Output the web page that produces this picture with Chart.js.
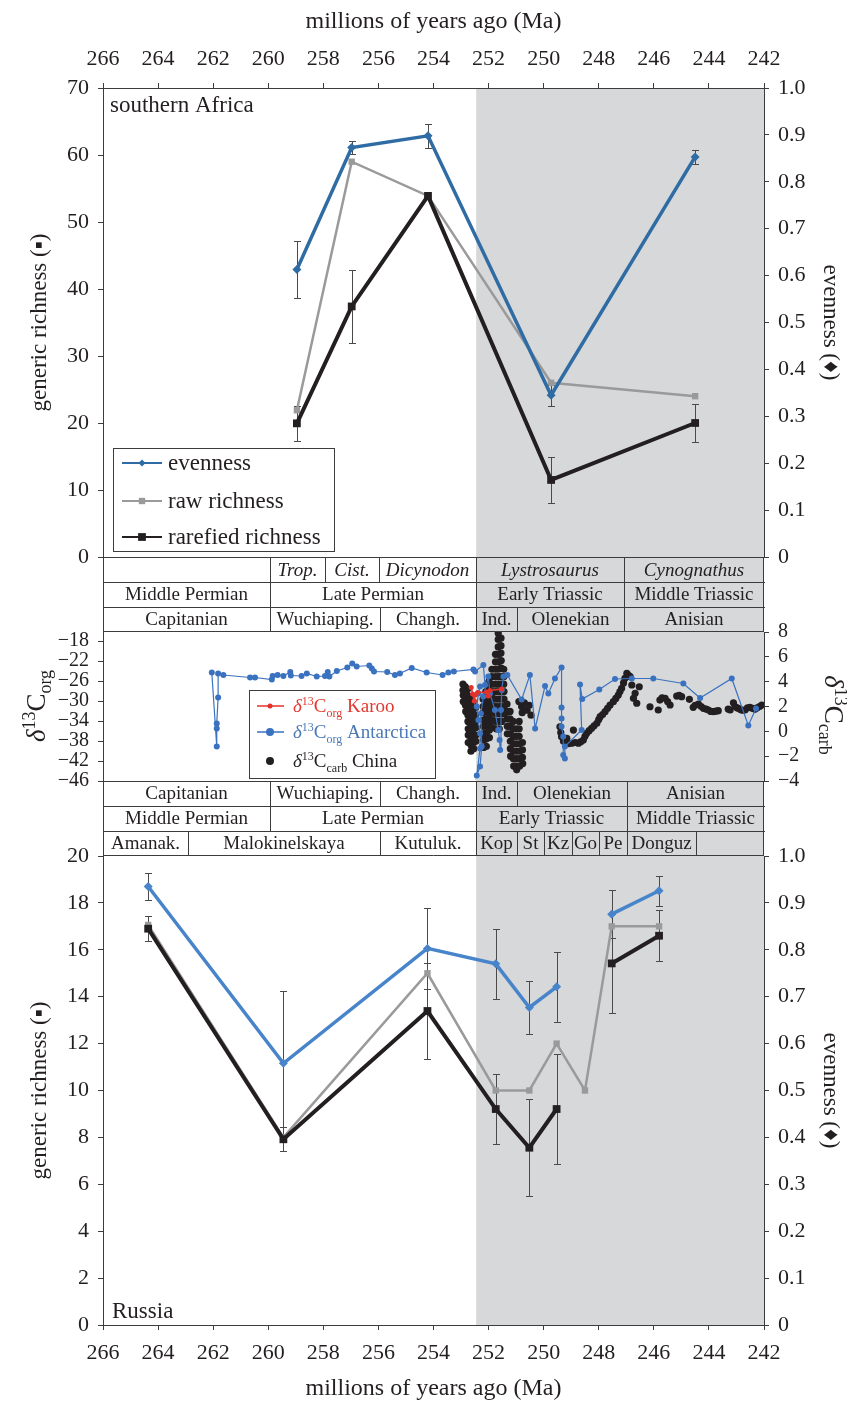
<!DOCTYPE html>
<html>
<head>
<meta charset="utf-8">
<title>Evenness and richness across the Permian-Triassic</title>
<script src="https://cdn.jsdelivr.net/npm/chart.js"></script>
<style>
  body { margin: 0; background: #fff; }
  #wrap { position: relative; width: 847px; height: 1403px; }
  canvas { position: absolute; left: 0; }
</style>
</head>
<body>
<div id="wrap">
  <canvas id="africaChart" width="847" height="632" style="top:0"></canvas>
  <canvas id="isotopeChart" width="847" height="249" style="top:607px"></canvas>
  <canvas id="russiaChart" width="847" height="572" style="top:831px"></canvas>
</div>
<script>
// ---- axes ----
const maTicks = [266, 264, 262, 260, 258, 256, 254, 252, 250, 248, 246, 244, 242];
const evenTicks = [0, 0.1, 0.2, 0.3, 0.4, 0.5, 0.6, 0.7, 0.8, 0.9, 1.0];
const africaRichTicks = [0, 10, 20, 30, 40, 50, 60, 70];
const russiaRichTicks = [0, 2, 4, 6, 8, 10, 12, 14, 16, 18, 20];
const orgTicks = [-46, -42, -38, -34, -30, -26, -22, -18];
const carbTicks = [-4, -2, 0, 2, 4, 6, 8];
const triassicFrom = 252.45;

// ---- southern Africa ----
const africaMa = [258.96, 256.97, 254.2, 249.73, 244.5];
const africaEvenness = [0.613, 0.873, 0.898, 0.345, 0.853];
const africaEvennessErr = [0.06, 0.013, 0.026, 0.022, 0.015];
const africaRaw = [21.9, 59.0, 53.9, 26.0, 24.0];
const africaRarefied = [19.95, 37.4, 53.9, 11.5, 20.0];
const africaRarefiedErr = [2.6, 5.5, 0, 3.5, 2.9];

// ---- Russia ----
const russiaMa = [264.36, 259.45, 254.22, 251.74, 250.52, 249.53, 248.5, 247.53, 245.81];
const russiaEvenness = [0.935, 0.558, 0.803, 0.770, 0.677, 0.721, null, 0.876, 0.926];
const russiaEvennessErr = [0.028, 0.155, 0.087, 0.074, 0.056, 0.074, 0, 0.051, 0.032];
const russiaRaw = [17.06, 8.0, 15.0, 10.0, 10.0, 12.0, 10.0, 17.0, 17.0];
const russiaRarefied = [16.9, 7.92, 13.39, 9.21, 7.56, 9.21, null, 15.42, 16.6];
const russiaRarefiedErr = [0.54, 0.52, 2.03, 1.5, 2.06, 2.33, 0, 2.1, 1.08];

// ---- carbon isotopes, [Ma, permil] ----
const karooOrg = [[252.63, -27.3], [252.58, -28.6], [252.52, -30.0], [252.49, -28.8], [252.4, -28.3],
  [252.07, -28.2], [252.01, -29.0], [251.95, -27.9], [251.52, -27.6]];

const antarcticaOrg = [[262.05, -24.3], [261.87, -39.1], [261.87, -35.5], [261.87, -34.5], [261.82, -29.3],
  [261.82, -24.5], [261.63, -24.8], [260.66, -25.3], [260.48, -25.3], [259.87, -25.7], [259.84, -25.0],
  [259.66, -24.8], [259.45, -25.0], [259.2, -24.2], [259.18, -24.9], [258.79, -25.0], [258.6, -24.5],
  [258.24, -25.1], [257.94, -25.0], [257.84, -24.2], [257.78, -25.1], [257.51, -24.0], [257.13, -23.3],
  [256.95, -22.5], [256.79, -23.1], [256.33, -22.9], [256.24, -23.5], [256.16, -24.1], [255.68, -24.2],
  [255.4, -24.8], [255.22, -24.5], [254.79, -23.4], [254.25, -24.3], [253.67, -24.8], [253.46, -24.3],
  [253.26, -24.1], [252.55, -23.7], [252.49, -24.1], [252.19, -22.8], [252.13, -26.8], [252.31, -27.1],
  [252.37, -28.5], [252.43, -31.1], [252.37, -33.8], [252.31, -36.5], [252.31, -39.5], [252.43, -44.9],
  [252.31, -43.1], [252.25, -39.1], [252.28, -32.5], [252.19, -29.1], [252.01, -25.1], [251.95, -28.5],
  [251.77, -31.8], [251.65, -35.8], [251.6, -37.8], [251.58, -39.8], [251.55, -31.8], [251.52, -27.8],
  [251.46, -25.1], [251.32, -24.8], [250.8, -29.7], [250.5, -24.8], [250.31, -35.5], [249.95, -27.0],
  [249.83, -28.5], [249.59, -25.5], [249.35, -23.3], [249.35, -31.3], [249.35, -33.5], [249.35, -35.1],
  [249.29, -37.1], [249.29, -40.8], [249.23, -41.5], [249.23, -39.1], [248.62, -35.8], [248.68, -26.7],
  [248.6, -29.6], [247.98, -27.7], [247.41, -25.6], [246.8, -25.5], [246.02, -25.5], [244.93, -26.5],
  [244.32, -29.4], [243.17, -25.5], [242.57, -34.9], [242.29, -31.5]];

const chinaCarb = [
  // latest Permian / earliest Triassic cluster
  [252.93, 3.8], [252.93, 3.3], [252.92, 2.9], [252.92, 2.4],
  [252.85, 3.6], [252.85, 3.1], [252.84, 2.6], [252.84, 2.1], [252.83, 1.6],
  [252.76, 3.4], [252.76, 2.9], [252.76, 2.3], [252.75, 1.8], [252.75, 1.3], [252.75, 0.8], [252.74, 0.2], [252.74, -0.3], [252.74, -0.9],
  [252.66, 2.8], [252.66, 2.2], [252.66, 1.7], [252.65, 1.1], [252.65, 0.6], [252.65, 0.0], [252.64, -0.5], [252.64, -1.1], [252.64, -1.6],
  [252.56, 2.4], [252.56, 1.8], [252.56, 1.3], [252.55, 0.7], [252.55, 0.2], [252.55, -0.4], [252.54, -0.9], [252.54, -1.4],
  [252.47, 1.9], [252.47, 1.3], [252.47, 0.8], [252.46, 0.3], [252.46, -0.3], [252.46, -0.8],
  [252.2, 2.6], [252.2, 2.0], [252.2, 1.5], [252.19, 0.9], [252.19, 0.4], [252.19, -0.2], [252.18, -0.7], [252.18, -1.3],
  [252.1, 3.2], [252.1, 2.7], [252.1, 2.1], [252.09, 1.6], [252.09, 1.0], [252.09, 0.5], [252.08, -0.1], [252.08, -0.6], [252.08, -1.2],
  [251.99, 4.0], [251.99, 3.4], [251.99, 2.9], [251.98, 2.3], [251.98, 1.8], [251.98, 1.2], [251.97, 0.6], [251.97, 0.1], [251.97, -0.5],
  [251.88, 5.0], [251.88, 4.4], [251.88, 3.8], [251.87, 3.2], [251.87, 2.7], [251.87, 2.1], [251.86, 1.5], [251.86, 0.9], [251.86, 0.3],
  [251.75, 6.2], [251.75, 5.6], [251.75, 5.0], [251.74, 4.4], [251.74, 3.8], [251.74, 3.2], [251.73, 2.6], [251.73, 2.0], [251.73, 1.4], [251.72, 0.8], [251.72, 0.2],
  [251.65, 7.9], [251.65, 7.4], [251.65, 6.8], [251.64, 6.2], [251.64, 5.6], [251.64, 5.0], [251.63, 4.4], [251.63, 3.8], [251.63, 3.2], [251.62, 2.6], [251.62, 2.0], [251.62, 1.4], [251.61, 0.8], [251.61, 0.2],
  [251.55, 7.5], [251.55, 6.9], [251.55, 6.3], [251.54, 5.7], [251.54, 5.1], [251.54, 4.4], [251.53, 3.8], [251.53, 3.2], [251.53, 2.6], [251.52, 2.0], [251.52, 1.4], [251.52, 0.8],
  [251.45, 5.0], [251.45, 4.4], [251.45, 3.8], [251.44, 3.2], [251.44, 2.6], [251.44, 2.0], [251.43, 1.4],
  // post-extinction low
  [251.33, 2.2], [251.33, 1.6], [251.32, 1.0], [251.32, 0.4], [251.32, -0.2],
  [251.22, 1.6], [251.22, 1.0], [251.22, 0.4], [251.21, -0.2], [251.21, -0.8], [251.21, -1.4], [251.2, -2.0],
  [251.11, 0.8], [251.11, 0.2], [251.11, -0.4], [251.1, -1.0], [251.1, -1.6], [251.1, -2.2], [251.09, -2.8],
  [251.0, 0.2], [251.0, -0.4], [251.0, -1.0], [250.99, -1.6], [250.99, -2.2], [250.99, -2.8], [250.98, -3.1],
  [250.89, 0.8], [250.89, 0.2], [250.89, -0.4], [250.88, -1.0], [250.88, -1.6], [250.88, -2.2], [250.87, -2.8],
  [250.78, 2.0], [250.78, 1.5], [250.77, -0.9], [250.77, -1.5], [250.77, -2.1], [250.76, -2.6],
  [250.9, 2.4], [250.8, 2.0], [250.7, 2.3], [250.6, 1.7], [250.52, 2.1], [250.46, 1.3],
  // Olenekian recovery
  [249.41, 0.37], [249.38, -0.1], [249.35, -0.43], [249.28, -0.8], [249.16, -0.56], [249.1, -1.0],
  [248.98, -0.96], [248.92, 0.1], [248.85, -0.9], [248.74, -0.96], [248.66, -0.85], [248.56, -0.7],
  [248.5, -0.4], [248.44, -0.16], [248.35, 0.05], [248.26, 0.24], [248.17, 0.45], [248.07, 0.65],
  [248.0, 0.95], [247.95, 1.18], [247.86, 1.35], [247.77, 1.58], [247.68, 1.85], [247.59, 2.12],
  [247.47, 2.39], [247.38, 2.65], [247.29, 2.92], [247.23, 3.2], [247.17, 3.46], [247.1, 3.9],
  [247.05, 4.27], [246.98, 4.67], [246.92, 4.5], [246.86, 4.4], [246.8, 3.73], [246.74, 2.66],
  [246.68, 3.06], [246.62, 2.26], [246.53, 3.59],
  // Anisian
  [246.14, 1.98], [245.84, 1.72], [245.78, 2.52], [245.7, 2.7], [245.59, 2.66], [245.5, 2.4],
  [245.41, 2.12], [245.17, 2.84], [245.08, 2.9], [244.99, 2.79], [244.71, 2.58], [244.57, 1.93],
  [244.5, 2.1], [244.38, 2.2], [244.28, 2.0], [244.2, 1.85], [244.1, 1.8], [244.02, 1.72],
  [243.93, 1.6], [243.84, 1.58], [243.75, 1.62], [243.66, 1.66], [243.3, 1.8], [243.23, 1.72],
  [243.11, 2.3], [243.05, 2.0], [242.98, 1.9], [242.93, 1.85], [242.85, 1.75], [242.77, 1.7],
  [242.69, 1.72], [242.6, 1.9], [242.51, 1.93], [242.42, 1.85], [242.33, 1.77], [242.25, 1.9],
  [242.16, 2.0], [242.08, 2.12]];

// ---- stratigraphic columns: [older Ma, younger Ma, label, italic] ----
const africaZones = [[266, 259.94, ''], [259.94, 257.94, 'Trop.', true], [257.94, 255.98, 'Cist.', true],
  [255.98, 252.46, 'Dicynodon', true], [252.46, 247.1, 'Lystrosaurus', true], [247.1, 242, 'Cynognathus', true]];
const africaSeries = [[266, 259.94, 'Middle Permian'], [259.94, 252.46, 'Late Permian'],
  [252.46, 247.1, 'Early Triassic'], [247.1, 242, 'Middle Triassic']];
const africaStages = [[266, 259.94, 'Capitanian'], [259.94, 255.94, 'Wuchiaping.'], [255.94, 252.46, 'Changh.'],
  [252.46, 250.98, 'Ind.'], [250.98, 247.1, 'Olenekian'], [247.1, 242, 'Anisian']];
const russiaStages = [[266, 259.94, 'Capitanian'], [259.94, 255.94, 'Wuchiaping.'], [255.94, 252.46, 'Changh.'],
  [252.46, 250.98, 'Ind.'], [250.98, 246.97, 'Olenekian'], [246.97, 242, 'Anisian']];
const russiaSeries = [[266, 259.94, 'Middle Permian'], [259.94, 252.46, 'Late Permian'],
  [252.46, 246.97, 'Early Triassic'], [246.97, 242, 'Middle Triassic']];
const russiaFormations = [[266, 262.93, 'Amanak.'], [262.93, 255.94, 'Malokinelskaya'], [255.94, 252.46, 'Kutuluk.'],
  [252.46, 250.98, 'Kop'], [250.98, 249.97, 'St'], [249.97, 248.96, 'Kz'], [248.96, 248.0, 'Go'],
  [248.0, 246.97, 'Pe'], [246.97, 244.47, 'Donguz'], [244.47, 242, '']];

const SERIF = '"Liberation Serif", "Times New Roman", serif';
const INK = '#231f20';
const FRAME = '#3c3c3c';
const SHADE = '#d7d8da';

const pts = (xs, ys) => xs.map((x, i) => ({x, y: ys[i]}));
const pairs = list => list.map(([x, y]) => ({x, y}));

// text with superscript / subscript pieces
function drawRich(ctx, parts, x, y, size, align) {
  const fontFor = st => (st === 'i' ? 'italic ' : '') +
    (st === 'sup' || st === 'sub' ? Math.round(size * 0.65) : size) + 'px ' + SERIF;
  let w = 0;
  parts.forEach(([t, st]) => { ctx.font = fontFor(st); w += ctx.measureText(t).width; });
  let cx = align === 'center' ? x - w / 2 : x;
  ctx.textAlign = 'left';
  ctx.textBaseline = 'alphabetic';
  parts.forEach(([t, st]) => {
    ctx.font = fontFor(st);
    const dy = st === 'sup' ? -size * 0.36 : st === 'sub' ? size * 0.24 : 0;
    ctx.fillText(t, cx, y + dy);
    cx += ctx.measureText(t).width;
  });
}
const ORG = [['δ', 'i'], ['13', 'sup'], ['C', ''], ['org', 'sub']];
const CARB = [['δ', 'i'], ['13', 'sup'], ['C', ''], ['carb', 'sub']];

// ---- plugins ----
const shade = {
  id: 'shade',
  beforeDraw(chart) {
    const {ctx, chartArea: a, scales: {x}} = chart;
    const x0 = x.getPixelForValue(triassicFrom), x1 = x.getPixelForValue(242);
    ctx.save();
    ctx.fillStyle = SHADE;
    ctx.fillRect(x0, a.top, x1 - x0, a.bottom - a.top);
    ctx.restore();
  }
};

const errorBars = {
  id: 'errorBars',
  beforeDatasetsDraw(chart) {
    const {ctx, scales} = chart;
    ctx.save();
    ctx.strokeStyle = '#4a4a4a';
    ctx.lineWidth = 1;
    chart.data.datasets.forEach(ds => {
      if (!ds.errors) return;
      const ys = scales[ds.yAxisID];
      ds.data.forEach((p, i) => {
        const e = ds.errors[i];
        if (!e || p.y == null) return;
        const px = Math.round(scales.x.getPixelForValue(p.x)) + 0.5;
        const t = Math.round(ys.getPixelForValue(p.y + e)) + 0.5;
        const b = Math.round(ys.getPixelForValue(p.y - e)) + 0.5;
        ctx.beginPath();
        ctx.moveTo(px, t); ctx.lineTo(px, b);
        ctx.moveTo(px - 3.5, t); ctx.lineTo(px + 3.5, t);
        ctx.moveTo(px - 3.5, b); ctx.lineTo(px + 3.5, b);
        ctx.stroke();
      });
    });
    ctx.restore();
  }
};

function bandRows(rows) {
  return {
    id: 'bandRows',
    afterDraw(chart) {
      const {ctx, chartArea: a, scales: {x}} = chart;
      const h = 25;
      const left = Math.round(x.getPixelForValue(266)), right = Math.round(x.getPixelForValue(242));
      ctx.save();
      ctx.lineWidth = 1;
      ctx.strokeStyle = FRAME;
      ctx.textAlign = 'center';
      ctx.textBaseline = 'middle';
      rows.forEach((row, r) => {
        const top = Math.round(a.bottom) + r * h;
        row.forEach(([from, to, label, italic]) => {
          const x0 = Math.round(x.getPixelForValue(from)), x1 = Math.round(x.getPixelForValue(to));
          ctx.fillStyle = from <= triassicFrom + 0.02 ? SHADE : '#fff';
          ctx.fillRect(x0, top, x1 - x0, h);
          ctx.beginPath();
          ctx.moveTo(x0 + 0.5, top); ctx.lineTo(x0 + 0.5, top + h);
          ctx.stroke();
          if (label) {
            ctx.fillStyle = INK;
            ctx.font = (italic ? 'italic ' : '') + '19px ' + SERIF;
            ctx.fillText(label, (x0 + x1) / 2, top + h / 2 + 1);
          }
        });
        ctx.beginPath();
        ctx.moveTo(left, top + 0.5); ctx.lineTo(right + 1, top + 0.5);
        ctx.moveTo(right - 0.5, top); ctx.lineTo(right - 0.5, top + h);
        ctx.stroke();
      });
      const end = Math.round(a.bottom) + rows.length * h - 0.5;
      ctx.beginPath();
      ctx.moveTo(left, end); ctx.lineTo(right, end);
      ctx.stroke();
      ctx.restore();
    }
  };
}

function panelLabel(text, where) {
  return {
    id: 'panelLabel',
    afterDraw(chart) {
      const {ctx, chartArea: a} = chart;
      ctx.save();
      ctx.font = '23px ' + SERIF;
      ctx.fillStyle = INK;
      ctx.textBaseline = 'alphabetic';
      if (where === 'top') ctx.fillText(text, a.left + 7, a.top + 24);
      else ctx.fillText(text, a.left + 9, a.bottom - 7);
      ctx.restore();
    }
  };
}

const africaLegend = {
  id: 'africaLegend',
  afterDatasetsDraw(chart) {
    const {ctx, chartArea: a} = chart;
    const left = a.left + 10, top = a.bottom - 109;
    ctx.save();
    ctx.fillStyle = '#fff';
    ctx.fillRect(left, top, 221, 103);
    ctx.strokeStyle = FRAME;
    ctx.lineWidth = 1;
    ctx.strokeRect(left + 0.5, top + 0.5, 221, 103);
    const rows = [[0, 15, 3.5], [2, 53, 4.5], [1, 89, 5.5]];
    rows.forEach(([di, dy, r]) => {
      const ds = chart.data.datasets[di];
      const y = top + dy;
      ctx.strokeStyle = ds.borderColor;
      ctx.fillStyle = ds.borderColor;
      ctx.lineWidth = 2;
      ctx.beginPath();
      ctx.moveTo(left + 9, y); ctx.lineTo(left + 49, y);
      ctx.stroke();
      Chart.helpers.drawPoint(ctx, {pointStyle: ds.pointStyle, radius: r, rotation: 0, borderWidth: 0}, left + 29, y);
      ctx.fillStyle = INK;
      ctx.font = '23px ' + SERIF;
      ctx.textBaseline = 'middle';
      ctx.textAlign = 'left';
      ctx.fillText(ds.label, left + 55, y + 1);
    });
    ctx.restore();
  }
};

const isotopeLegend = {
  id: 'isotopeLegend',
  afterDatasetsDraw(chart) {
    const {ctx, chartArea: a} = chart;
    const left = a.left + 146, top = a.top + 58;
    ctx.save();
    ctx.fillStyle = '#fff';
    ctx.fillRect(left, top, 186, 88);
    ctx.strokeStyle = FRAME;
    ctx.lineWidth = 1;
    ctx.strokeRect(left + 0.5, top + 0.5, 186, 88);
    const items = [
      [0, 16, 2.5, true, '#e0392f', [...ORG, [' Karoo', '']]],
      [1, 42, 4, true, '#4a78b8', [...ORG, [' Antarctica', '']]],
      [2, 71, 4, false, INK, [...CARB, [' China', '']]]
    ];
    items.forEach(([di, dy, r, line, textColor, parts]) => {
      const ds = chart.data.datasets[di];
      const y = top + dy;
      const c = ds.showLine === false ? ds.backgroundColor : ds.borderColor;
      ctx.strokeStyle = c;
      ctx.fillStyle = c;
      if (line) {
        ctx.lineWidth = 1.5;
        ctx.beginPath();
        ctx.moveTo(left + 8, y); ctx.lineTo(left + 35, y);
        ctx.stroke();
      }
      Chart.helpers.drawPoint(ctx, {pointStyle: 'circle', radius: r, rotation: 0, borderWidth: 0}, left + 21, y);
      ctx.fillStyle = textColor;
      drawRich(ctx, parts, left + 44, y + 6, 19, 'left');
    });
    ctx.restore();
  }
};

const isotopeTitles = {
  id: 'isotopeTitles',
  afterDraw(chart) {
    const {ctx, chartArea: a} = chart;
    ctx.save();
    ctx.fillStyle = INK;
    ctx.translate(45, a.top + 74);
    ctx.rotate(-Math.PI / 2);
    drawRich(ctx, ORG, 0, 0, 27, 'center');
    ctx.restore();
    ctx.save();
    ctx.fillStyle = INK;
    ctx.translate(825, a.top + 83);
    ctx.rotate(Math.PI / 2);
    drawRich(ctx, CARB, 0, 0, 27, 'center');
    ctx.restore();
  }
};

// ---- scales ----
const tickGrid = {drawOnChartArea: false, tickLength: 5, color: FRAME};
const minus = v => (v < 0 ? '\u2212' + Math.abs(v) : String(v));

function xAxis(position) {
  return {
    type: 'linear', position, reverse: true, min: 242, max: 266,
    afterBuildTicks: s => { s.ticks = maTicks.map(v => ({value: v})); },
    afterFit: s => { s.height = position === 'top' ? 88 : 78; },
    grid: tickGrid,
    border: {color: FRAME},
    ticks: {font: {family: SERIF, size: 22}, color: INK, padding: position === 'top' ? 11 : 10,
      autoSkip: false, maxRotation: 0},
    title: {display: true, text: 'millions of years ago (Ma)', font: {family: SERIF, size: 24}, color: INK,
      padding: position === 'top' ? {top: 7, bottom: 0} : {top: 0, bottom: 0}}
  };
}

function yAxis(position, min, max, values, fmt, title, size) {
  return {
    type: 'linear', position, min, max,
    afterBuildTicks: s => { s.ticks = values.map(v => ({value: v})); },
    afterFit: s => { s.width = position === 'left' ? 103 : 83; },
    grid: tickGrid,
    border: {color: FRAME},
    ticks: {font: {family: SERIF, size: size || 22}, color: INK, padding: 9, autoSkip: false, callback: fmt},
    title: title
      ? {display: true, text: title, font: {family: SERIF, size: 23}, color: INK, padding: position === 'left' ? 26 : 3}
      : {display: false}
  };
}
const evenFmt = v => (v === 0 ? '0' : v.toFixed(1));

const baseOptions = padding => ({
  responsive: false,
  animation: false,
  events: [],
  layout: {padding},
  plugins: {legend: {display: false}, tooltip: {enabled: false}}
});

function richnessSets(ma, even, evenErr, raw, rare, rareErr, evenColor) {
  return [
    {label: 'evenness', data: pts(ma, even), errors: evenErr, yAxisID: 'yEven',
      borderColor: evenColor, backgroundColor: evenColor, borderWidth: 3.5,
      pointStyle: 'rectRot', pointRadius: 4.5, pointBorderWidth: 0, spanGaps: false},
    {label: 'rarefied richness', data: pts(ma, rare), errors: rareErr, yAxisID: 'yRich',
      borderColor: INK, backgroundColor: INK, borderWidth: 4,
      pointStyle: 'rect', pointRadius: 5.5, pointBorderWidth: 0, spanGaps: false},
    {label: 'raw richness', data: pts(ma, raw), yAxisID: 'yRich',
      borderColor: '#9a9a9a', backgroundColor: '#9a9a9a', borderWidth: 2.5,
      pointStyle: 'rect', pointRadius: 4.5, pointBorderWidth: 0}
  ];
}

// ---- southern Africa ----
new Chart(document.getElementById('africaChart'), {
  type: 'line',
  data: {datasets: richnessSets(africaMa, africaEvenness, africaEvennessErr, africaRaw,
    africaRarefied, africaRarefiedErr, '#2f6ca4')},
  options: Object.assign(baseOptions({top: 0, bottom: 75, left: 0, right: 0}), {
    scales: {
      x: xAxis('top'),
      yRich: yAxis('left', 0, 70, africaRichTicks, v => String(v), 'generic richness (\u25AA)'),
      yEven: yAxis('right', 0, 1, evenTicks, evenFmt, 'evenness (\u2666)')
    }
  }),
  plugins: [shade, errorBars, africaLegend, panelLabel('southern Africa', 'top'),
    bandRows([africaZones, africaSeries, africaStages])]
});

// ---- carbon isotopes ----
new Chart(document.getElementById('isotopeChart'), {
  type: 'line',
  data: {datasets: [
    {label: 'Karoo', data: pairs(karooOrg), yAxisID: 'yOrg', borderColor: '#e4322b',
      backgroundColor: '#e4322b', borderWidth: 1.5, pointRadius: 2.5, pointBorderWidth: 0},
    {label: 'Antarctica', data: pairs(antarcticaOrg), yAxisID: 'yOrg', borderColor: '#3a72c0',
      backgroundColor: '#3a72c0', borderWidth: 1.2, pointRadius: 3, pointBorderWidth: 0},
    {label: 'China', data: pairs(chinaCarb), yAxisID: 'yCarb', showLine: false,
      backgroundColor: INK, borderColor: INK, pointRadius: 3.6, pointBorderWidth: 0}
  ]},
  options: Object.assign(baseOptions({top: 25, bottom: 75, left: 0, right: 0}), {
    scales: {
      x: {type: 'linear', reverse: true, min: 242, max: 266, display: false},
      yOrg: yAxis('left', -46, -16.2, orgTicks, minus, null, 20),
      yCarb: yAxis('right', -4, 8, carbTicks, minus, null, 20)
    }
  }),
  plugins: [shade, isotopeLegend, isotopeTitles, bandRows([russiaStages, russiaSeries, russiaFormations])]
});

// ---- Russia ----
new Chart(document.getElementById('russiaChart'), {
  type: 'line',
  data: {datasets: richnessSets(russiaMa, russiaEvenness, russiaEvennessErr, russiaRaw,
    russiaRarefied, russiaRarefiedErr, '#4884ca')},
  options: Object.assign(baseOptions({top: 25, bottom: 0, left: 0, right: 0}), {
    scales: {
      x: xAxis('bottom'),
      yRich: yAxis('left', 0, 20, russiaRichTicks, v => String(v), 'generic richness (\u25AA)'),
      yEven: yAxis('right', 0, 1, evenTicks, evenFmt, 'evenness (\u2666)')
    }
  }),
  plugins: [shade, errorBars, panelLabel('Russia', 'bottom')]
});
</script>
</body>
</html>
